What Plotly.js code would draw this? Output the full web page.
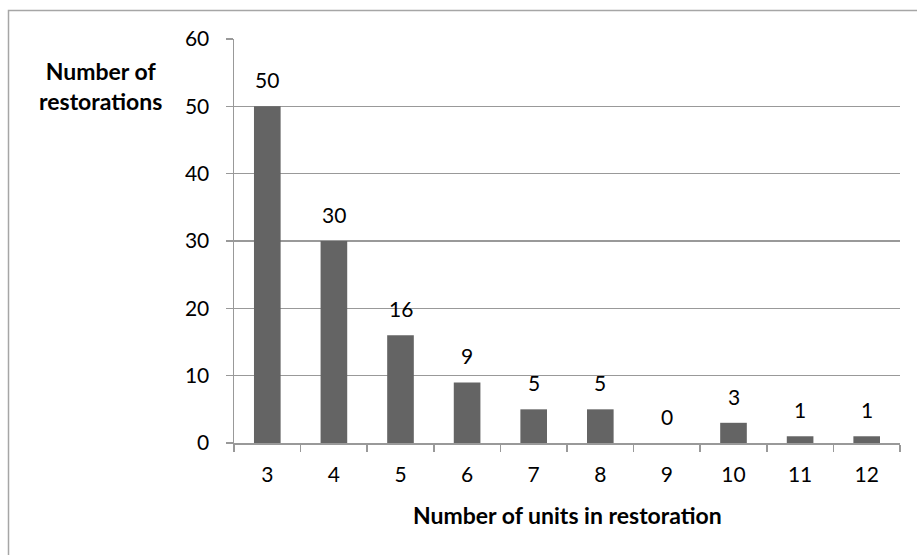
<!DOCTYPE html>
<html><head><meta charset="utf-8">
<script src="https://cdn.plot.ly/plotly-3.0.1.min.js"></script>
<style>html,body{margin:0;padding:0;background:#fff;}#chart{width:917px;height:555px;}</style>
</head><body><div id="chart"></div>
<script>
const categories = ['3','4','5','6','7','8','9','10','11','12'];
const restorations = [50, 30, 16, 9, 5, 5, 0, 3, 1, 1];
const yTicks = [0, 10, 20, 30, 40, 50, 60];

const font = "Lato, 'Open Sans', sans-serif";

const annotations = categories.map((c, i) => ({
  x: i, y: restorations[i], xref: 'x', yref: 'y',
  text: String(restorations[i]), showarrow: false,
  yanchor: 'bottom', yshift: 12,
  font: {family: font, size: 21, color: '#000'}
}));
annotations.push({
  xref: 'paper', yref: 'paper', x: -0.201, y: 0.884,
  xanchor: 'center', yanchor: 'middle', showarrow: false,
  text: '<b>Number of<br>restorations</b>', align: 'center',
  font: {family: font, size: 23, color: '#000'}
});
annotations.push({
  xref: 'paper', yref: 'paper', x: 0.5, y: -0.178,
  xanchor: 'center', yanchor: 'middle', showarrow: false,
  text: '<b>Number of units in restoration</b>',
  font: {family: font, size: 23, color: '#000'}
});

Plotly.newPlot('chart', [{
  type: 'bar', x: categories, y: restorations,
  marker: {color: '#646464'}, hoverinfo: 'none'
}], {
  width: 917, height: 555,
  margin: {l: 234, r: 17, t: 39, b: 112},
  paper_bgcolor: '#fff', plot_bgcolor: '#fff',
  bargap: 0.6,
  showlegend: false,
  xaxis: {
    type: 'category', range: [-0.5, 9.5], tickson: 'boundaries',
    ticks: 'outside', ticklen: 7, tickcolor: '#999', tickwidth: 1.5,
    showline: true, linecolor: '#999', linewidth: 1.5,
    showgrid: false, ticklabelstandoff: 12,
    tickfont: {family: font, size: 21, color: '#000'}
  },
  yaxis: {
    range: [0, 60], tickvals: yTicks, ticks: 'outside', ticklen: 7,
    tickcolor: '#999', tickwidth: 1.5,
    showline: true, linecolor: '#999', linewidth: 1.5,
    showgrid: true, gridcolor: '#999', gridwidth: 1.5, zeroline: false,
    ticklabelstandoff: 12,
    tickfont: {family: font, size: 21, color: '#000'}
  },
  annotations: annotations
}, {staticPlot: true});

// outer chart border
const div = document.getElementById('chart');
const svg = div.querySelector('svg.main-svg');
const ns = 'http://www.w3.org/2000/svg';
const r = document.createElementNS(ns, 'rect');
r.setAttribute('x', 8.5); r.setAttribute('y', 10.5);
r.setAttribute('width', 940); r.setAttribute('height', 580);
r.setAttribute('fill', 'none'); r.setAttribute('stroke', '#a6a6a6'); r.setAttribute('stroke-width', 1.5);
svg.appendChild(r);
</script></body></html>
